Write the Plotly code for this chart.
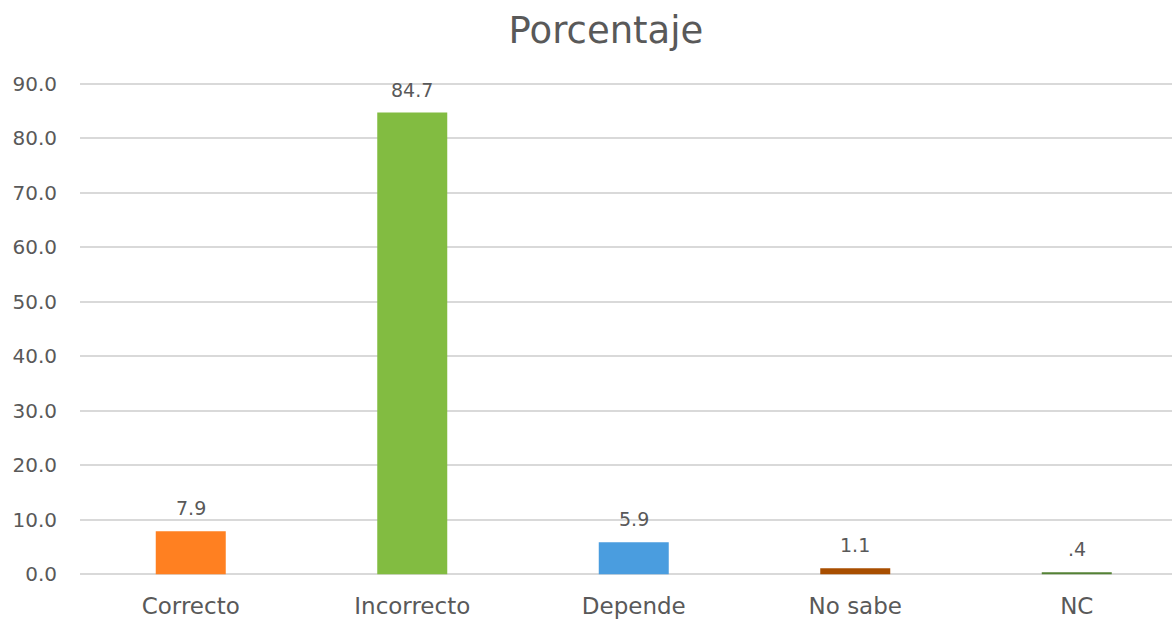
import plotly.graph_objects as go

categories = ["Correcto", "Incorrecto", "Depende", "No sabe", "NC"]
values = [7.9, 84.7, 5.9, 1.1, 0.4]
labels = ["7.9", "84.7", "5.9", "1.1", ".4"]
colors = ["#FF8021", "#82BC41", "#4A9DDF", "#A84E00", "#548235"]
yticks = [0, 10, 20, 30, 40, 50, 60, 70, 80, 90]

font_family = "DejaVu Sans, sans-serif"
text_color = "#595959"

fig = go.Figure(
    go.Bar(
        x=categories,
        y=values,
        marker=dict(color=colors, line=dict(width=0)),
        width=0.316,
        hoverinfo="x+y",
    )
)

for c, v, t in zip(categories, values, labels):
    fig.add_annotation(
        x=c, y=v, text=t, showarrow=False,
        xanchor="center", yanchor="bottom", yshift=10,
        font=dict(size=19, color=text_color, family=font_family),
    )

fig.update_layout(
    width=1172,
    height=619,
    paper_bgcolor="white",
    plot_bgcolor="white",
    margin=dict(l=80, r=0, t=82, b=43, autoexpand=False),
    title=dict(
        text="Porcentaje",
        x=0.517,
        xanchor="center",
        y=0.972,
        yanchor="top",
        font=dict(size=37, color=text_color, family=font_family),
    ),
    showlegend=False,
)

fig.update_xaxes(
    range=[-0.5, 4.43],
    showgrid=False,
    showline=False,
    ticks="",
    tickfont=dict(size=23, color=text_color, family=font_family),
    ticklabelstandoff=14,
)

fig.update_yaxes(
    range=[-0.3, 90.3],
    tickvals=yticks,
    tickformat=".1f",
    showgrid=True,
    gridcolor="#D9D9D9",
    gridwidth=1.5,
    zeroline=False,
    showline=False,
    ticks="",
    tickfont=dict(size=20, color=text_color, family=font_family),
    ticklabelstandoff=22,
)

fig.write_html(
    "out.html",
    config={"displayModeBar": False},
    post_script="document.body.style.margin='0';document.body.style.overflow='hidden';",
)
